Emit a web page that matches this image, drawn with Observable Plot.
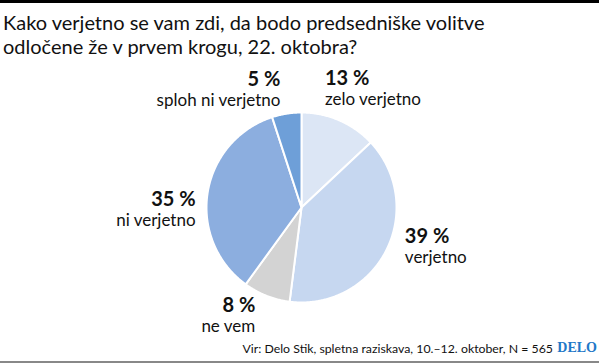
<!DOCTYPE html>
<html><head><meta charset="utf-8">
<script src="https://cdn.jsdelivr.net/npm/d3@7"></script>
<script src="https://cdn.jsdelivr.net/npm/@observablehq/plot@0.6"></script>
<style>
body{margin:0;width:599px;height:364px;position:relative;overflow:hidden;background:#fff;font-family:Lato,"Noto Sans",sans-serif;color:#111}
#bar{position:absolute;top:0;left:0;width:599px;height:3px;background:#000}
#title{position:absolute;top:10px;left:3px;font-size:20px;line-height:24px;white-space:nowrap}
#chart{position:absolute;top:60px;left:0}
#foot{position:absolute;top:341px;right:46px;font-size:12.3px;white-space:nowrap}
#logo{position:absolute;top:340px;right:2px;font-family:"Liberation Serif","DejaVu Serif",serif;font-weight:bold;font-size:14px;color:#1f78c8}
#line{position:absolute;top:361px;left:0;width:599px;height:2px;background:#888}
</style></head>
<body>
<div id="bar"></div>
<div id="title">Kako verjetno se vam zdi, da bodo predsedniške volitve<br>odločene že v prvem krogu, 22. oktobra?</div>
<div id="chart"></div>
<div id="foot">Vir: Delo Stik, spletna raziskava, 10.–12. oktober, N = 565</div>
<div id="logo">DELO</div>
<div id="line"></div>
<script>
// Data
const categories = ["zelo verjetno", "verjetno", "ne vem", "ni verjetno", "sploh ni verjetno"];
const values = [13, 39, 8, 35, 5];
const valueLabels = ["13 %", "39 %", "8 %", "35 %", "5 %"];
const colors = ["#dce6f5", "#c6d7f0", "#d3d3d3", "#8caedf", "#6e9fd8"];

// Label layout (anchor + pixel offsets from the slice's mid-angle point)
const labelLayout = [
  {anchor: "start", dx: -20, dy: -22},
  {anchor: "start", dx: 6, dy: -14},
  {anchor: "end", dx: -6, dy: 3},
  {anchor: "end", dx: 2, dy: 16},
  {anchor: "end", dx: -4, dy: -14}
];

const total = d3.sum(values);
const slices = [];
const labels = [];
let cum = 0;
categories.forEach((c, i) => {
  const a0 = cum / total * 2 * Math.PI;
  cum += values[i];
  const a1 = cum / total * 2 * Math.PI;
  slices.push({key: c, x: 0, y: 0});
  const n = Math.max(2, Math.ceil((a1 - a0) / (Math.PI / 360)));
  for (let k = 0; k <= n; k++) {
    const a = a0 + (a1 - a0) * k / n;
    slices.push({key: c, x: Math.sin(a), y: Math.cos(a)});
  }
  const am = (a0 + a1) / 2;
  const r = 1.15;
  labels.push({key: c, pct: valueLabels[i], x: r * Math.sin(am), y: r * Math.cos(am), ...labelLayout[i]});
});

const W = 599, H = 275, R = 95, cx = 301, cy = 147;
const pctMark = (L) => Plot.text([L], {x: "x", y: "y", text: "pct", textAnchor: L.anchor, dx: L.dx, dy: L.dy, lineAnchor: "bottom", fontSize: 20, fontWeight: "bold", fill: "#111"});
const catMark = (L) => Plot.text([L], {x: "x", y: "y", text: "key", textAnchor: L.anchor, dx: L.dx, dy: L.dy + 20, lineAnchor: "bottom", fontSize: 17, fill: "#111"});

const chart = Plot.plot({
  width: W, height: H,
  marginLeft: cx - R, marginRight: W - cx - R,
  marginTop: cy - R, marginBottom: H - cy - R,
  x: {domain: [-1, 1], axis: null},
  y: {domain: [-1, 1], axis: null},
  color: {domain: categories, range: colors},
  style: {fontFamily: "Lato, 'Noto Sans', sans-serif", background: "transparent", overflow: "visible"},
  marks: [
    Plot.line(slices, {x: "x", y: "y", z: "key", fill: "key", stroke: "white", strokeWidth: 2, curve: "linear-closed", strokeLinejoin: "round"}),
    ...labels.map(pctMark),
    ...labels.map(catMark)
  ]
});
document.getElementById("chart").append(chart);
</script>
</body></html>
